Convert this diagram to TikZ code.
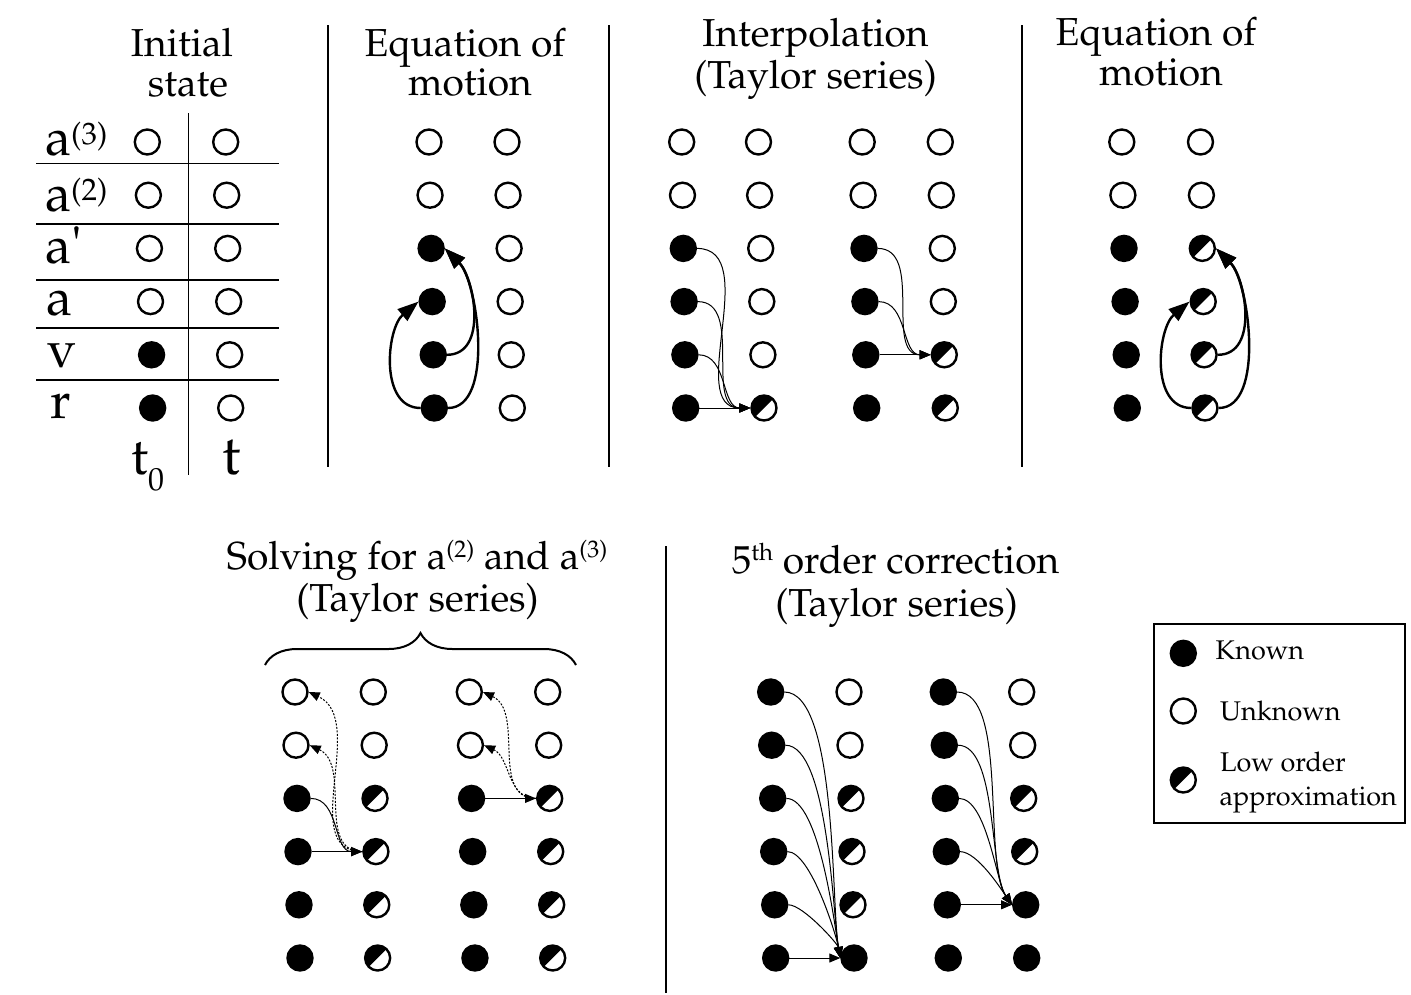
\documentclass[tikz,border=0pt]{standalone}
\usepackage[T1]{fontenc}
\usepackage{mathpazo}
\usepackage{textcomp}
\usetikzlibrary{arrows.meta,decorations.pathreplacing}
\newcommand\supr[3]{{\fontsize{#1}{#1}\selectfont\raisebox{#2}{#3}}}
\newcommand\mkcol[5]{%
  \foreach \s [count=\i] in {#5} \node[\s] (#1\i) at ({#2+(\i-1)*#3},{-(#4+(\i-1)*53.2)}) {};}
\begin{document}
\begin{tikzpicture}[x=1pt,y=1pt,
  st/.style={circle,minimum size=25pt,inner sep=0pt,line width=2.4pt,draw=black},
  kn/.style={st,fill=black},
  un/.style={st,fill=white},
  lo/.style={st,fill=white,path picture={\fill[black] (path picture bounding box.center) -- ++(45:20pt) arc[start angle=45,end angle=225,radius=20pt] -- cycle;}},
  ttl/.style={font=\fontsize{39}{40}\selectfont, anchor=base, inner sep=0pt},
  lbl/.style={font=\fontsize{52}{52}\selectfont, anchor=base west, inner sep=0pt},
  leg/.style={font=\fontsize{27}{28}\selectfont, anchor=base west, inner sep=0pt},
  sep/.style={line width=1.3pt},
  gridl/.style={line width=1.2pt},
  bigarr/.style={line width=2.4pt, -{Triangle[length=21pt,width=15pt]}},
  thinarr/.style={line width=1pt, -{Triangle[length=11pt,width=9pt]}},
  dotarr/.style={thinarr, dash pattern=on 2pt off 1.5pt},
]
\path[fill=white,use as bounding box] (0,0) rectangle (1411,-994);

% ---------- titles ----------
\node[ttl] (ti1a) at (182,-56.7) {Initial};
\node[ttl] (ti1b) at (188,-96) {state};
\node[ttl] (ti2a) at (465,-56) {Equation of};
\node[ttl] (ti2b) at (470,-95) {motion};
\node[ttl] (ti3a) at (815.5,-46) {Interpolation};
\node[ttl] (ti3b) at (815.5,-88) {(Taylor series)};
\node[ttl] (ti4a) at (1156,-45) {Equation of};
\node[ttl] (ti4b) at (1161,-85) {motion};
\node[ttl] (ti5a) at (417,-569) {Solving for a\supr{24}{12pt}{(2)} and a\supr{24}{12pt}{(3)}};
\node[ttl] (ti5b) at (417.5,-611.7) {(Taylor series)};
\node[ttl] (ti6a) at (895.5,-573) {5\supr{24}{13pt}{th} order correction};
\node[ttl] (ti6b) at (896.5,-616) {(Taylor series)};

% ---------- separators ----------
\draw[sep] (328,-25) -- (328,-467);
\draw[sep] (609,-25) -- (609,-467);
\draw[sep] (1022,-25) -- (1022,-467);
\draw[sep] (666,-546) -- (666,-993);

% ---------- initial state table ----------
\draw[gridl] (188.3,-113) -- (188.3,-475);
\foreach \yy in {163.3,224,280,328,380} \draw[gridl] (36,-\yy) -- (279,-\yy);
\node[lbl] (r1) at (45,-155) {a\supr{31}{11pt}{(3)}};
\node[lbl] (r2) at (45,-211.7) {a\supr{31}{11pt}{(2)}};
\node[lbl] (r3) at (45,-263) {a\textquotesingle};
\node[lbl] (r4) at (46,-315) {a};
\node[lbl] (r5) at (47,-367) {v};
\node[lbl] (r6) at (50.5,-418) {r};
\node[lbl] (t0) at (131,-474) {t\supr{32}{-16pt}{0}};
\node[lbl,font=\fontsize{56}{56}\selectfont] (t1) at (222,-474) {t};

% ---------- circles ----------
\mkcol{ia}{147.3}{1.07}{142}{un,un,un,un,kn,kn}
\mkcol{ib}{225.7}{1.0}{142}{un,un,un,un,un,un}
\mkcol{ea}{429}{1.06}{142}{un,un,kn,kn,kn,kn}
\mkcol{eb}{507}{1.06}{142}{un,un,un,un,un,un}
\mkcol{ga}{681.7}{0.8}{142}{un,un,kn,kn,kn,kn}
\mkcol{gb}{758.5}{1.1}{142}{un,un,un,un,un,lo}
\mkcol{ha}{862.2}{0.9}{142}{un,un,kn,kn,kn,kn}
\mkcol{hb}{940.3}{1.0}{142}{un,un,un,un,lo,lo}
\mkcol{fa}{1121.8}{1.1}{142}{un,un,kn,kn,kn,kn}
\mkcol{fb}{1200.5}{0.9}{142}{un,un,lo,lo,lo,lo}
\mkcol{ja}{295}{1.0}{692}{un,un,kn,kn,kn,kn}
\mkcol{jb}{373.3}{0.87}{692}{un,un,lo,lo,lo,lo}
\mkcol{ka}{469.3}{1.13}{692}{un,un,kn,kn,kn,kn}
\mkcol{kb}{547.7}{1.0}{692}{un,un,lo,lo,lo,lo}
\mkcol{la}{770.7}{1.0}{692}{kn,kn,kn,kn,kn,kn}
\mkcol{lb}{849}{1.0}{692}{un,un,lo,lo,lo,kn}
\mkcol{ma}{943.3}{1.0}{692}{kn,kn,kn,kn,kn,kn}
\mkcol{mb}{1021.7}{1.0}{692}{un,un,lo,lo,kn,kn}

% ---------- equation of motion arrows ----------
\draw[bigarr] (ea6.west) to[out=180,in=220] (ea4.west);
\draw[bigarr] (ea6.east) to[out=0,in=-45,looseness=0.75] (ea3.east);
\draw[bigarr] (ea5.east) to[out=0,in=-45] (ea3.east);
\draw[bigarr] (fb6.west) to[out=180,in=220] (fb4.west);
\draw[bigarr] (fb6.east) to[out=0,in=-45,looseness=0.75] (fb3.east);
\draw[bigarr] (fb5.east) to[out=0,in=-45] (fb3.east);

% ---------- interpolation arrows ----------
\foreach \i in {3,4,5} \draw[thinarr] (ga\i.east) to[out=0,in=180] (gb6.west);
\draw[thinarr] (ga6) -- (gb6);
\foreach \i in {3,4} \draw[thinarr] (ha\i.east) to[out=0,in=180] (hb5.west);
\draw[thinarr] (ha5) -- (hb5);

% ---------- solving arrows ----------
\draw[thinarr] (ja3.east) to[out=0,in=180] (jb4.west);
\draw[thinarr] (ja4) -- (jb4);
\foreach \i in {1,2} \draw[dotarr] (jb4.west) to[out=180,in=-25] (ja\i.east);
\draw[thinarr] (ka3) -- (kb3);
\foreach \i in {1,2} \draw[dotarr] (kb3.west) to[out=180,in=-25] (ka\i.east);
\coordinate (bl) at (265,-665);
\coordinate (br) at (576,-665);
\draw[line width=2pt,decorate,decoration={brace,amplitude=32pt}] (bl) -- (br);

% ---------- 5th order arrows ----------
\foreach \i in {1,...,5} \draw[thinarr] (la\i.east) to[out=0,in=100,looseness=0.5] (lb6.west);
\draw[thinarr] (la6) -- (lb6);
\foreach \i in {1,...,4} \draw[thinarr] (ma\i.east) to[out=0,in=125,looseness=0.6] (mb5.west);
\draw[thinarr] (ma5) -- (mb5);

% ---------- legend ----------
\draw[line width=1.3pt] (1154,-624) rectangle (1405,-823);
\node[kn] (lg1) at (1183.3,-653.3) {};
\node[un] (lg2) at (1183.3,-711) {};
\node[lo] (lg3) at (1183.3,-780) {};
\node[leg] (lt1) at (1215.5,-659) {Known};
\node[leg] (lt2) at (1220,-720) {Unknown};
\node[leg] (lt3) at (1220,-771.7) {Low order};
\node[leg] (lt4) at (1219.5,-805) {approximation};
\end{tikzpicture}
\end{document}
